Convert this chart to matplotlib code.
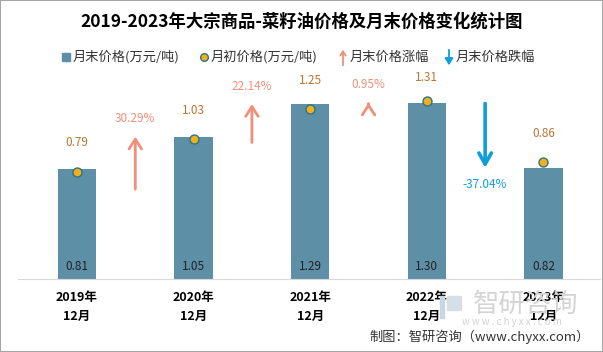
import numpy as np
import matplotlib.pyplot as plt
from matplotlib.patches import Rectangle, FancyArrowPatch

plt.rcParams['font.family'] = ['Noto Sans CJK SC', 'DejaVu Sans']

years = ['2019年\n12月', '2020年\n12月', '2021年\n12月', '2022年\n12月', '2023年\n12月']
end_price = [0.81, 1.05, 1.29, 1.30, 0.82]
start_price = [0.79, 1.03, 1.25, 1.31, 0.86]
change_pct = [30.29, 22.14, 0.95, -37.04]

bar_color = '#5D90A7'
up_color = '#F0907A'
down_color = '#0E9FDB'
start_color = '#BD7430'

fig = plt.figure(figsize=(6.03, 3.52), dpi=100)
ax = fig.add_axes([18 / 603, 73 / 352, 582 / 603, 209 / 352])

x = np.arange(len(years))
ax.bar(x, end_price, width=0.33, color=bar_color, zorder=2)
ax.scatter(x, start_price, s=42, color='#F2B01E', edgecolor='#2D7585', linewidth=1, zorder=3)

for i in range(len(years)):
    ax.annotate(f'{end_price[i]:.2f}', (x[i], 0), xytext=(0, 13), textcoords='offset pixels',
                ha='center', va='center', fontsize=8.5, color='#222222')
    ly = min(start_price[i], 1.275)
    ax.annotate(f'{start_price[i]:.2f}', (x[i], ly), xytext=(0, 29), textcoords='offset pixels',
                ha='center', va='center', fontsize=8.5, color=start_color)

# arrows between years, length scaled by percent change
k = 0.0128
for i, p in enumerate(change_pct):
    xm = x[i] + 0.5
    nxt = end_price[i + 1]
    tail = nxt - p * k
    if p >= 0:
        ax.annotate('', xy=(xm, nxt), xytext=(xm, tail),
                    arrowprops=dict(arrowstyle='->,head_length=0.7,head_width=0.45',
                                    color=up_color, lw=2, shrinkA=0, shrinkB=0))
        ax.annotate(f'{p:.2f}%', (xm, nxt), xytext=(0, 18), textcoords='offset pixels',
                    ha='center', va='center', fontsize=8.5, color=up_color)
    else:
        ax.annotate('', xy=(xm, nxt), xytext=(xm, tail),
                    arrowprops=dict(arrowstyle='->,head_length=0.8,head_width=0.45',
                                    color=down_color, lw=2.6, shrinkA=0, shrinkB=0))
        ax.annotate(f'{p:.2f}%', (xm, nxt), xytext=(0, -17), textcoords='offset pixels',
                    ha='center', va='center', fontsize=8.5, color=down_color)

ax.set_xlim(-0.506, 4.485)
ax.set_ylim(0, 1.541)
ax.set_xticks(x)
ax.set_xticklabels(years, fontsize=9, fontweight='bold', linespacing=1.55)
ax.tick_params(axis='x', length=0, pad=9)
ax.set_yticks([])
for s in ['top', 'right', 'left']:
    ax.spines[s].set_visible(False)
ax.spines['bottom'].set_color('#D9D9D9')

fig.text(0.5, 1 - 22 / 352, '2019-2023年大宗商品-菜籽油价格及月末价格变化统计图',
         ha='center', va='center', fontsize=12.5, fontweight='bold')

# legend drawn by hand
ly = 1 - 57 / 352
fig.patches.append(Rectangle((62 / 603, ly - 4 / 352), 8 / 603, 8 / 352,
                             transform=fig.transFigure, color=bar_color))
fig.text(73 / 603, ly, '月末价格(万元/吨)', va='center', fontsize=9.5, color='#333333')
fig.lines.append(plt.Line2D([204 / 603], [ly], marker='o', markersize=5.5,
                            markerfacecolor='#F2B01E', markeredgecolor='#2D7585',
                            transform=fig.transFigure))
fig.text(211 / 603, ly, '月初价格(万元/吨)', va='center', fontsize=9.5, color='#333333')
fig.patches.append(FancyArrowPatch((343 / 603, 1 - 68 / 352), (343 / 603, 1 - 47 / 352),
                                   transform=fig.transFigure, arrowstyle='->,head_length=3,head_width=2',
                                   color=up_color, lw=1.3))
fig.text(350 / 603, ly, '月末价格涨幅', va='center', fontsize=9.5, color='#333333')
fig.patches.append(FancyArrowPatch((449 / 603, 1 - 47 / 352), (449 / 603, 1 - 68 / 352),
                                   transform=fig.transFigure, arrowstyle='-|>,head_length=4,head_width=2.5',
                                   color=down_color, lw=1.3))
fig.text(456 / 603, ly, '月末价格跌幅', va='center', fontsize=9.5, color='#333333')

# watermark
fig.patches.append(Rectangle((440 / 603, 1 - 318 / 352), 4 / 603, 22 / 352,
                             transform=fig.transFigure, color='#C9D6E3', zorder=0))
fig.patches.append(Rectangle((447 / 603, 1 - 310 / 352), 14 / 603, 14 / 352,
                             transform=fig.transFigure, color='#D8DEE5', zorder=0))
fig.text(526 / 603, 1 - 304 / 352, '智研咨询', ha='center', va='center', fontsize=19,
         color='#D4D4D4', zorder=0)
fig.text(512 / 603, 1 - 322 / 352, 'w w w . c h y x x . c o m', ha='center', va='center',
         fontsize=7, color='#D4D4D4', zorder=0)

fig.text(590 / 603, 1 - 337 / 352, '制图：智研咨询（www.chyxx.com）', ha='right', va='center',
         fontsize=9.5, color='#333333')

fig.patches.append(Rectangle((0, 0), 1, 1, transform=fig.transFigure, fill=False,
                             edgecolor='#A6A6A6', lw=1.5))

fig.savefig('out.png', dpi=100)
